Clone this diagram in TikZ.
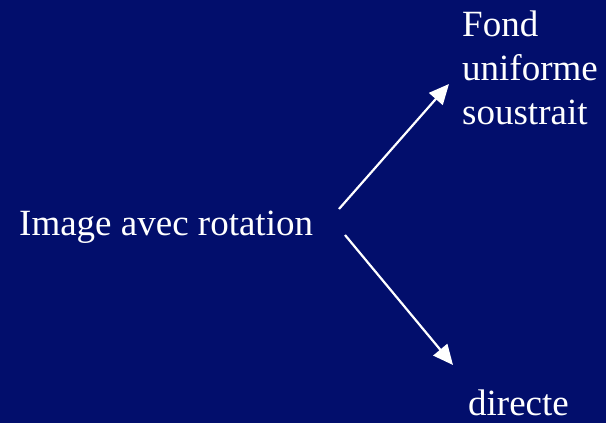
\documentclass[tikz,border=0pt]{standalone}
\usepackage{fontspec}
\setmainfont{Liberation Serif}
\usetikzlibrary{arrows.meta}
\definecolor{bgblue}{RGB}{2,14,108}
\tikzset{
  lbl/.style={text=white, inner sep=0pt, font=\fontsize{37}{44}\selectfont, align=left},
  arr/.style={draw=white, line width=2.2pt, -{Triangle[length=20pt,width=18pt]}}
}
\begin{document}
\begin{tikzpicture}[x=1pt,y=-1pt]
  \fill[bgblue] (0,0) rectangle (606,423);
  \useasboundingbox (0,0) rectangle (606,423);
  \node[lbl, anchor=base west] (img) at (19,235) {Image avec rotation};
  \node[lbl, anchor=base west] (fond) at (462,124) {Fond\\uniforme\\soustrait};
  \node[lbl, anchor=base west] (dir) at (468,415) {directe};
  \coordinate (a1s) at (339,209);
  \coordinate (a1e) at (449,84);
  \coordinate (a2s) at (345,235);
  \coordinate (a2e) at (453,365);
  \draw[arr] (a1s) -- (a1e);
  \draw[arr] (a2s) -- (a2e);
\end{tikzpicture}
\end{document}
